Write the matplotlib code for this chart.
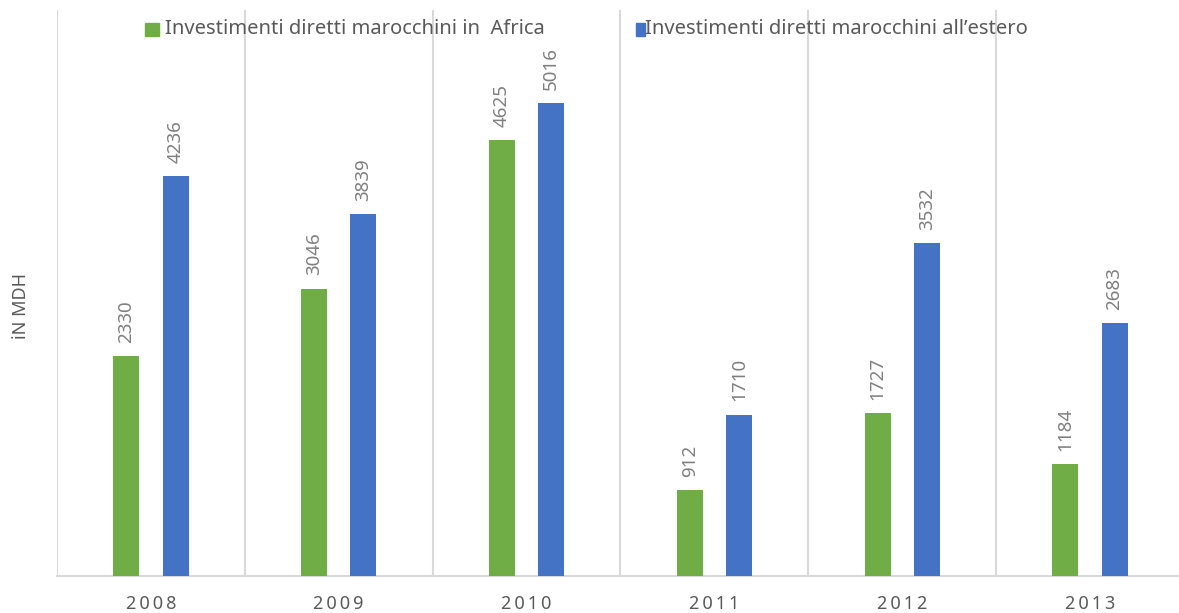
import matplotlib
matplotlib.use("Agg")
import matplotlib.pyplot as plt
import numpy as np

plt.rcParams["font.family"] = ["Noto Sans", "DejaVu Sans"]

years = ["2008", "2009", "2010", "2011", "2012", "2013"]
africa = [2330, 3046, 4625, 912, 1727, 1184]
estero = [4236, 3839, 5016, 1710, 3532, 2683]
series_names = ["Investimenti diretti marocchini in  Africa",
                "Investimenti diretti marocchini all\u2019estero"]

green = "#70ad47"
blue = "#4472c4"
txt = "#595959"
lbl = "#7f7f7f"
gridc = "#d9d9d9"

W, H = 1179, 613
fig = plt.figure(figsize=(W / 100, H / 100), dpi=100)
left, right, bottom, top = 57, 1179, 576, 10
ax = fig.add_axes([left / W, 1 - bottom / H, (right - left) / W, (bottom - top) / H])

catw = 187.8
x = np.arange(len(years))
off = 24.6 / catw
bw = 26 / catw
ax.bar(x - off, africa, bw, color=green, zorder=3)
ax.bar(x + off, estero, bw, color=blue, zorder=3)

ax.set_xlim(-0.5, -0.5 + (right - left) / catw)
ax.set_ylim(0, 6000)

for xs, vals in ((x - off, africa), (x + off, estero)):
    for xi, v in zip(xs, vals):
        ax.annotate(str(v), (xi, v), xytext=(0, 9.5), textcoords="offset points",
                    rotation=90, ha="center", va="bottom", color=lbl, fontsize=13.5)

for b in np.arange(-0.5, len(years), 1.0):
    ax.axvline(b, color=gridc, lw=1.5, zorder=1)

for s in ["top", "right", "left"]:
    ax.spines[s].set_visible(False)
ax.spines["bottom"].set_color(gridc)
ax.spines["bottom"].set_linewidth(1.5)
ax.set_yticks([])
ax.set_xticks(x)
ax.set_xticklabels(["\u2009".join(y) for y in years], color=txt, fontsize=13)
ax.tick_params(axis="x", length=0, pad=14)

fig.text(21 / W, 1 - 306 / H, "iN MDH", rotation=90, ha="center", va="center",
         color=txt, fontsize=13)

# legend
fig.patches.append(plt.Rectangle((145 / W, 1 - 36 / H), 14 / W, 13 / H,
                                 transform=fig.transFigure, color=green))
fig.text(165 / W, 1 - 29 / H, series_names[0], color=txt, fontsize=14.5, va="center")
fig.patches.append(plt.Rectangle((636 / W, 1 - 36 / H), 9 / W, 13 / H,
                                 transform=fig.transFigure, color=blue))
fig.text(645 / W, 1 - 29 / H, series_names[1], color=txt, fontsize=14.5, va="center")

fig.savefig("out.png", dpi=100)
